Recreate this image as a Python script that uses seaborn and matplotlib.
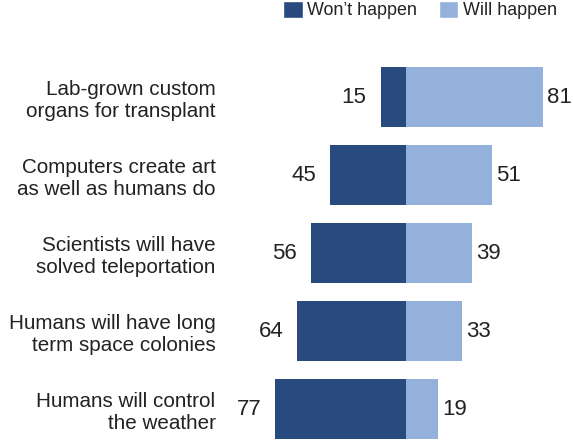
import matplotlib
matplotlib.use("Agg")
import matplotlib.pyplot as plt
import seaborn as sns
import pandas as pd
from matplotlib.patches import Patch

categories = [
    "Lab-grown custom\norgans for transplant",
    "Computers create art\nas well as humans do",
    "Scientists will have\nsolved teleportation",
    "Humans will have long\nterm space colonies",
    "Humans will control\nthe weather",
]
wont_happen = [15, 45, 56, 64, 77]
will_happen = [81, 51, 39, 33, 19]

dark = "#284a7e"
light = "#93b1db"

sns.set_theme(style="white")
plt.rcParams['font.family'] = ['Liberation Sans', 'DejaVu Sans']

df_wont = pd.DataFrame({"cat": categories, "val": [-v for v in wont_happen]})
df_will = pd.DataFrame({"cat": categories, "val": will_happen})

fig = plt.figure(figsize=(5.73, 4.41), dpi=100)
ax = fig.add_axes([228/573, 0, (572-228)/573, (441-58)/441])

sns.barplot(data=df_wont, x="val", y="cat", orient="h", color=dark,
            width=0.77, saturation=1, linewidth=0, ax=ax)
sns.barplot(data=df_will, x="val", y="cat", orient="h", color=light,
            width=0.77, saturation=1, linewidth=0, ax=ax)

c0, c1 = ax.containers[0], ax.containers[1]
ax.bar_label(c0, labels=[str(v) for v in wont_happen], padding=10, fontsize=16, color="#222222")
ax.bar_label(c1, labels=[str(v) for v in will_happen], padding=3, fontsize=16, color="#222222")

ax.set_xlim(-105, 98)
ax.set_ylim(4.41, -0.5)
ax.set_xlabel("")
ax.set_ylabel("")
ax.set_xticks([])
ax.tick_params(axis="y", length=0, pad=9, labelsize=14.9, labelcolor="#222222")
for lbl in ax.get_yticklabels():
    lbl.set_horizontalalignment("right")
    lbl.set_multialignment("right")
    lbl.set_linespacing(1.2)
for s in ax.spines.values():
    s.set_visible(False)

handles = [Patch(facecolor=dark, label="Won\u2019t happen"),
           Patch(facecolor=light, label="Will happen")]
fig.legend(handles=handles, loc="upper right", bbox_to_anchor=(1.0, 1.035), ncol=2,
           frameon=False, fontsize=12.9, handlelength=1.1, handleheight=1.1,
           handletextpad=0.25, columnspacing=1.2, labelcolor="#222222")

fig.savefig("out.png", dpi=100)
